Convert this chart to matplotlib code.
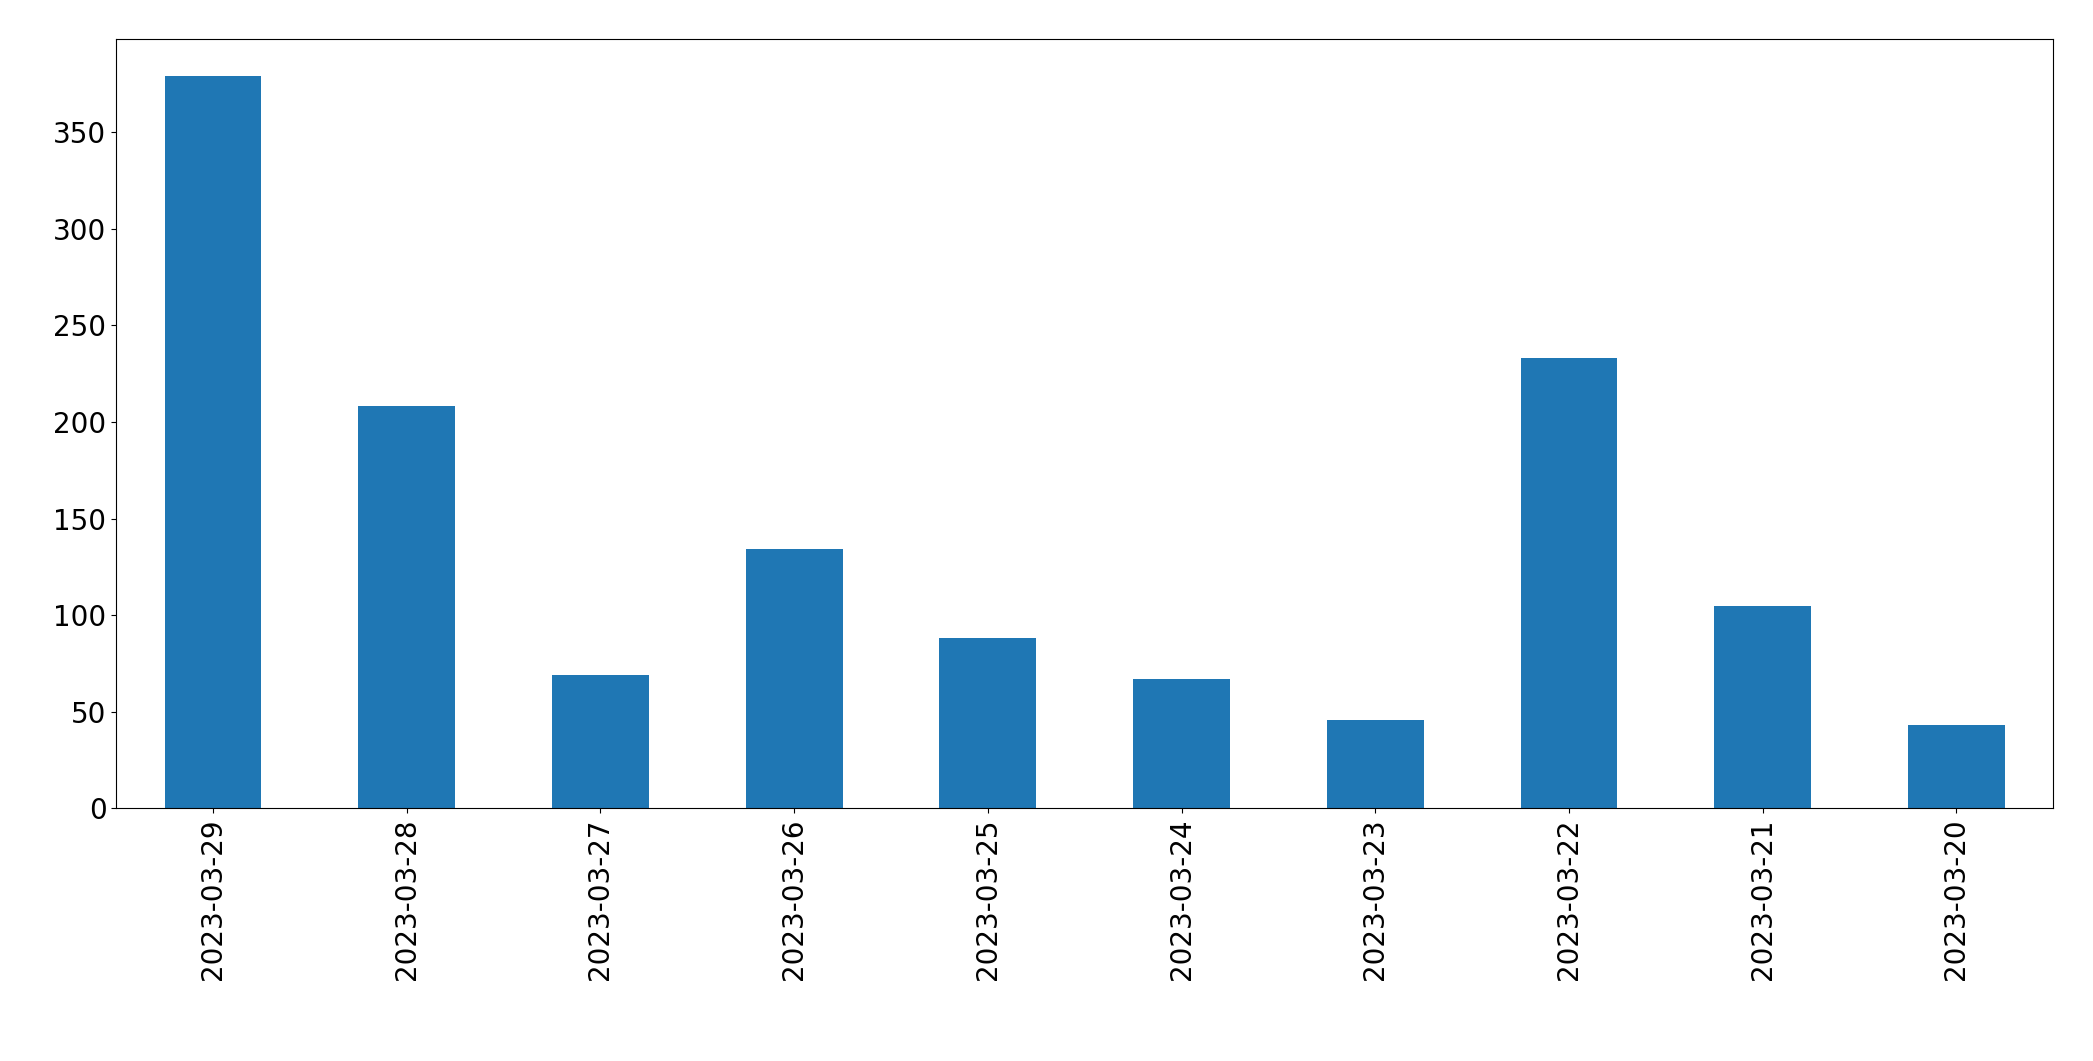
import matplotlib
matplotlib.use("Agg")
import matplotlib.pyplot as plt

dates = ["2023-03-29", "2023-03-28", "2023-03-27", "2023-03-26", "2023-03-25",
         "2023-03-24", "2023-03-23", "2023-03-22", "2023-03-21", "2023-03-20"]
counts = [379, 208, 69, 134, 88, 67, 46, 233, 105, 43]

fig = plt.figure(figsize=(20.93, 10.61), dpi=100)
ax = fig.add_axes([0.0555, 0.238, 0.9255, 0.725])
ax.bar(range(len(dates)), counts, width=0.5, color="#1f77b4")
ax.set_xlim(-0.5, len(dates) - 0.5)
ax.set_ylim(0, 398)
ax.set_xticks(range(len(dates)))
ax.set_xticklabels(dates, rotation=90)
ax.tick_params(labelsize=20)
fig.savefig("out.png", dpi=100)
